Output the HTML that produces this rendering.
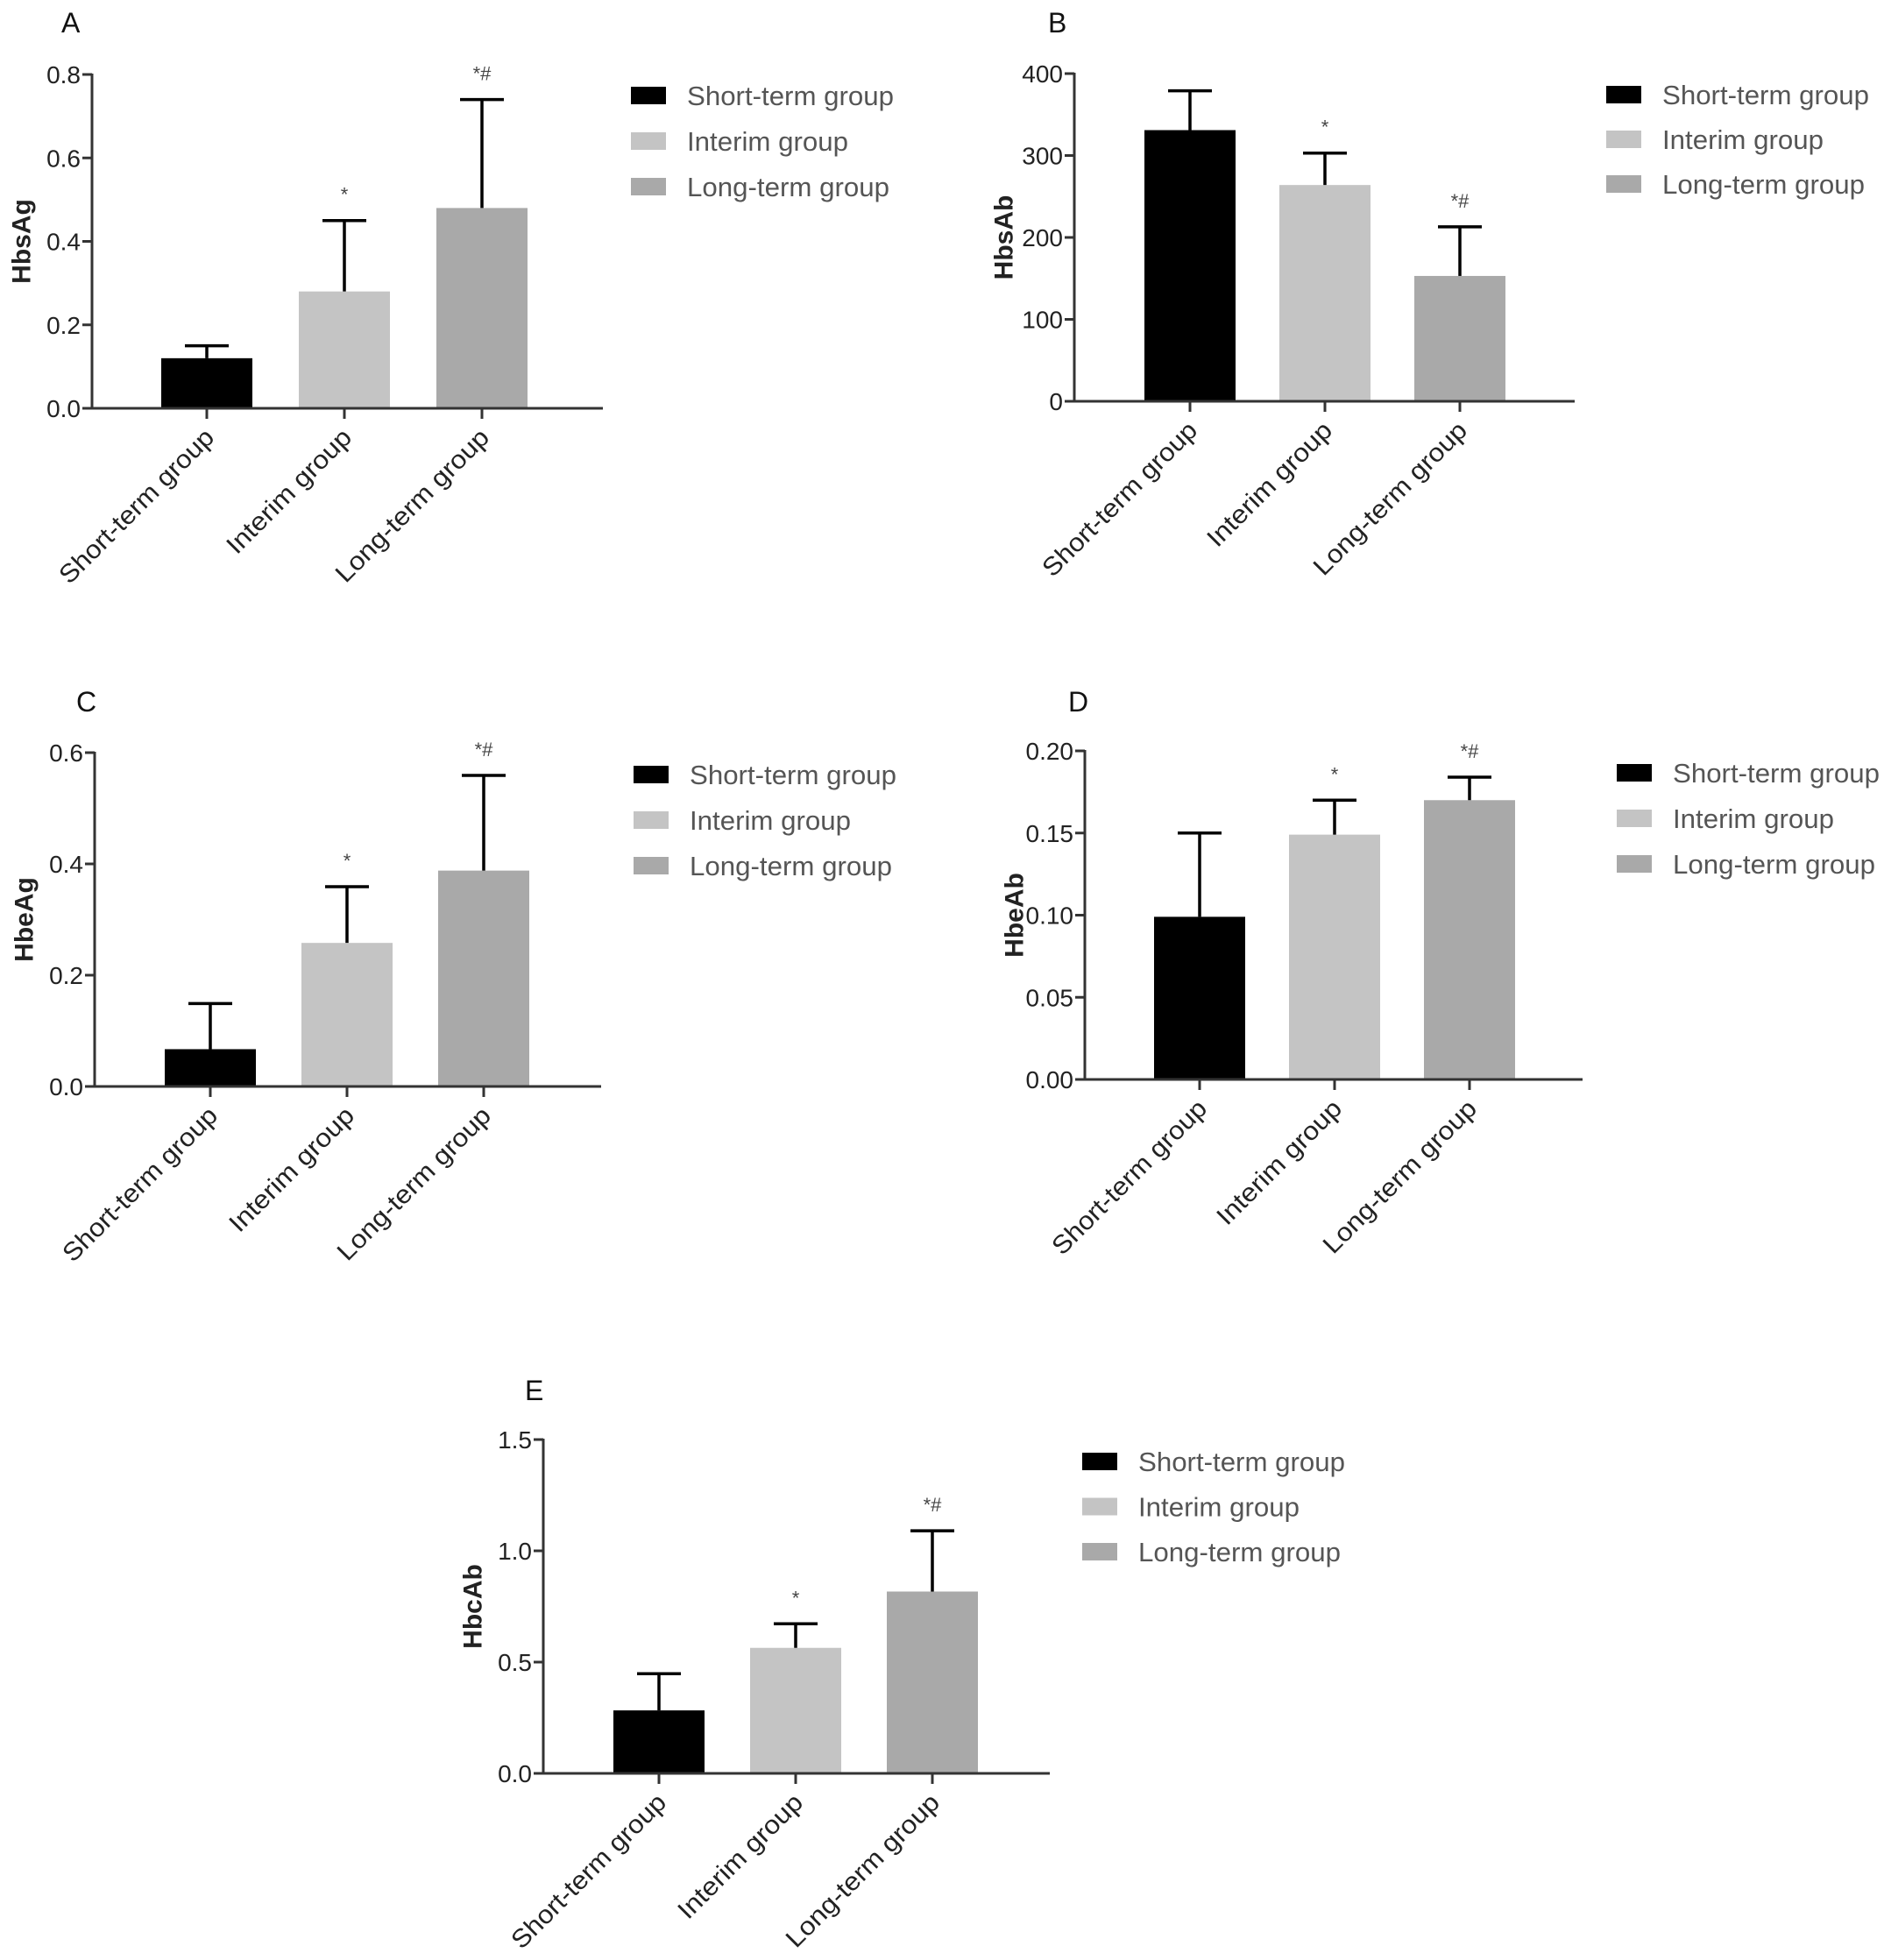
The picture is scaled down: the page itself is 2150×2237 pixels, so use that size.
<!DOCTYPE html>
<html><head><meta charset="utf-8"><style>
html,body{margin:0;padding:0;background:#fff;}
svg{display:block;font-family:"Liberation Sans",Arial,sans-serif;}
</style></head>
<body>
<svg id="fig" width="2150" height="2237" viewBox="0 0 2150 2237" xmlns="http://www.w3.org/2000/svg"></svg>
<script>
const categories = ["Short-term group","Interim group","Long-term group"];
const colors = ["#000000","#c4c4c4","#a9a9a9"];
const annotations = ["","*","*#"];

const valsA = [0.12, 0.28, 0.48];  const errA = [0.15, 0.45, 0.74];
const valsB = [331, 264, 153];     const errB = [379, 303, 213];
const valsC = [0.067, 0.258, 0.388]; const errC = [0.149, 0.359, 0.559];
const valsD = [0.099, 0.149, 0.170]; const errD = [0.150, 0.170, 0.184];
const valsE = [0.283, 0.564, 0.817]; const errE = [0.448, 0.672, 1.090];

const ticksA = [0, 0.2, 0.4, 0.6, 0.8]; const tickLabA = ["0.0","0.2","0.4","0.6","0.8"];
const ticksB = [0, 100, 200, 300, 400]; const tickLabB = ["0","100","200","300","400"];
const ticksC = [0, 0.2, 0.4, 0.6]; const tickLabC = ["0.0","0.2","0.4","0.6"];
const ticksD = [0, 0.05, 0.10, 0.15, 0.20]; const tickLabD = ["0.00","0.05","0.10","0.15","0.20"];
const ticksE = [0, 0.5, 1.0, 1.5]; const tickLabE = ["0.0","0.5","1.0","1.5"];

const NS = "http://www.w3.org/2000/svg";
const svg = document.getElementById("fig");
function mk(tag, attrs, parent, txt){
  const e = document.createElementNS(NS, tag);
  for (const k in attrs) e.setAttribute(k, attrs[k]);
  if (txt !== undefined) e.textContent = txt;
  (parent || svg).appendChild(e);
  return e;
}
const legendW = [236, 184, 231];
const xLabW = [236, 188, 234];

function panel(p){
  const g = mk("g", {});
  
  
  const y = v => p.y0 - (v / p.max) * (p.y0 - p.yTop);
  const xc = i => p.cx0 + i * p.step;
  const lt = mk("text", {x:p.lx, y:p.ly, "font-size":32, fill:"#111"}, g, p.letter);
  
  
  p.vals.forEach((v, i) => {
    const bw = 104;
    const r = mk("rect", {x:xc(i)-bw/2, y:y(v), width:bw, height:p.y0-y(v), fill:colors[i]}, g);
    
    
    const eg = mk("g", {stroke:"#000", "stroke-width":3.5}, g);
    
    
    mk("line", {x1:xc(i), x2:xc(i), y1:y(v), y2:y(p.err[i])}, eg);
    mk("line", {x1:xc(i)-25, x2:xc(i)+25, y1:y(p.err[i]), y2:y(p.err[i])}, eg);
    if (annotations[i]) {
      const a = mk("text", {x:xc(i), y:y(p.err[i])-22, "font-size":22, fill:"#444", "text-anchor":"middle"}, g, annotations[i]);
      
      
    }
    mk("line", {x1:xc(i), x2:xc(i), y1:p.y0, y2:p.y0+12, stroke:"#333", "stroke-width":3}, g);
    const tx = xc(i)+10, ty = p.y0+35;
    const xl = mk("text", {x:tx, y:ty, "font-size":29, fill:"#222", "text-anchor":"end",
      textLength:xLabW[i], lengthAdjust:"spacingAndGlyphs",
      transform:`rotate(-45 ${tx} ${ty})`}, g, categories[i]);
    
    
  });
  const ya = mk("line", {x1:p.ax, x2:p.ax, y1:p.yTop-1, y2:p.y0+1.5, stroke:"#333", "stroke-width":3}, g);
  
  
  const xa = mk("line", {x1:p.ax, x2:p.axEnd, y1:p.y0, y2:p.y0, stroke:"#333", "stroke-width":3}, g);
  
  
  p.ticks.forEach((t, k) => {
    mk("line", {x1:p.ax-11, x2:p.ax, y1:y(t), y2:y(t), stroke:"#333", "stroke-width":3}, g);
    const tl = mk("text", {x:p.ax-13, y:y(t)+10, "font-size":28, fill:"#222", "text-anchor":"end"}, g, p.tickLab[k]);
    
    
  });
  const yc = (p.y0 + p.yTop) / 2, yx = p.ax - 80;
  const yt = mk("text", {x:yx, y:yc, "font-size":30, "font-weight":"bold", fill:"#222", "text-anchor":"middle",
    "dominant-baseline":"central", transform:`rotate(-90 ${yx} ${yc})`}, g, p.title);
  
  
  categories.forEach((c, i) => {
    const ry = p.legY0 + i * p.legStep;
    const lg = mk("g", {}, g);
    
    
    mk("rect", {x:p.legX, y:ry-10, width:40, height:20, fill:colors[i]}, lg);
    mk("text", {x:p.legX+64, y:ry+11, "font-size":31, fill:"#555", textLength:legendW[i], lengthAdjust:"spacingAndGlyphs"}, lg, c);
  });
}

panel({letter:"A", lx:70, ly:37, title:"HbsAg", vals:valsA, err:errA, ticks:ticksA, tickLab:tickLabA, max:0.8,
  ax:105, axEnd:688, y0:466, yTop:85, cx0:236, step:157, legX:720, legY0:109, legStep:52});
panel({letter:"B", lx:1196, ly:37, title:"HbsAb", vals:valsB, err:errB, ticks:ticksB, tickLab:tickLabB, max:400,
  ax:1226, axEnd:1797, y0:458, yTop:84, cx0:1358, step:154, legX:1833, legY0:108, legStep:51});
panel({letter:"C", lx:87, ly:812, title:"HbeAg", vals:valsC, err:errC, ticks:ticksC, tickLab:tickLabC, max:0.6,
  ax:108, axEnd:686, y0:1240, yTop:859, cx0:240, step:156, legX:723, legY0:884, legStep:52});
panel({letter:"D", lx:1219, ly:812, title:"HbeAb", vals:valsD, err:errD, ticks:ticksD, tickLab:tickLabD, max:0.2,
  ax:1238, axEnd:1806, y0:1232, yTop:857, cx0:1369, step:154, legX:1845, legY0:882, legStep:52});
panel({letter:"E", lx:599, ly:1598, title:"HbcAb", vals:valsE, err:errE, ticks:ticksE, tickLab:tickLabE, max:1.5,
  ax:620, axEnd:1198, y0:2024, yTop:1643, cx0:752, step:156, legX:1235, legY0:1668, legStep:51.5});
</script>
</body></html>
